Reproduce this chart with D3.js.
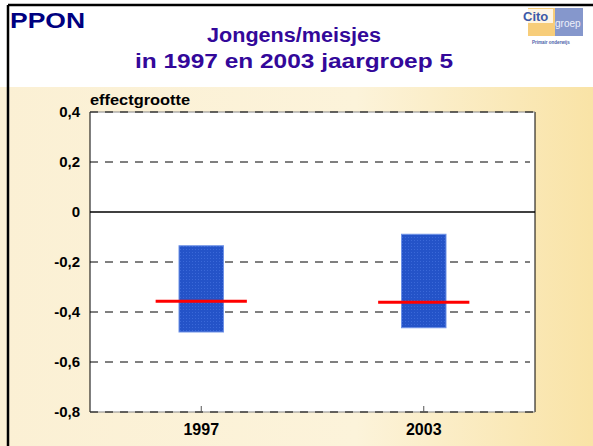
<!DOCTYPE html>
<html>
<head>
<script src="https://d3js.org/d3.v7.min.js"></script>
<style>
  body { margin: 0; background: #fff; }
  svg { display: block; font-family: "Liberation Sans", Arial, sans-serif; }
</style>
</head>
<body>
<div id="chart"></div>
<script>
// data
const categories = ["1997", "2003"];
const boxLow = [-0.48, -0.463];
const boxHigh = [-0.135, -0.089];
const meanValue = [-0.357, -0.361];
const yTicks = [0.4, 0.2, 0, -0.2, -0.4, -0.6, -0.8];

const width = 593, height = 446;
const svg = d3.select("#chart").append("svg")
    .attr("width", width)
    .attr("height", height);

const defs = svg.append("defs");
const bg = defs.append("linearGradient").attr("id", "bg").attr("x1", 0).attr("x2", 1).attr("y1", 0).attr("y2", 0);
bg.append("stop").attr("offset", "0%").attr("stop-color", "#fbf0d4");
bg.append("stop").attr("offset", "60%").attr("stop-color", "#fcf3da");
bg.append("stop").attr("offset", "100%").attr("stop-color", "#f9e3a6");

const dots = defs.append("pattern").attr("id", "dots")
    .attr("width", 3).attr("height", 3).attr("patternUnits", "userSpaceOnUse");
dots.append("rect").attr("width", 3).attr("height", 3).attr("fill", "#2453c8");
dots.append("rect").attr("width", 1).attr("height", 1).attr("fill", "#3a68d8");

// slide background
svg.append("rect").attr("width", width).attr("height", height).attr("fill", "#fff");
svg.append("rect").attr("x", 0).attr("y", 87).attr("width", width).attr("height", height - 87).attr("fill", "url(#bg)");

// frame
svg.append("line").attr("x1", 8).attr("x2", width).attr("y1", 5).attr("y2", 5).attr("stroke", "#000").attr("stroke-width", 2.5);
svg.append("line").attr("x1", 8).attr("x2", 8).attr("y1", 5).attr("y2", height).attr("stroke", "#000").attr("stroke-width", 2.5);

svg.append("text").attr("x", 10).attr("y", 28)
    .attr("font-size", 22).attr("font-weight", "bold").attr("fill", "#000080")
    .attr("textLength", 75).attr("lengthAdjust", "spacingAndGlyphs")
    .text("PPON");

svg.append("text").attr("x", 294).attr("y", 42).attr("text-anchor", "middle")
    .attr("font-size", 19.5).attr("font-weight", "bold").attr("fill", "#33089a")
    .attr("textLength", 174).attr("lengthAdjust", "spacingAndGlyphs")
    .text("Jongens/meisjes");
svg.append("text").attr("x", 294).attr("y", 68).attr("text-anchor", "middle")
    .attr("font-size", 19.5).attr("font-weight", "bold").attr("fill", "#33089a")
    .attr("textLength", 318).attr("lengthAdjust", "spacingAndGlyphs")
    .text("in 1997 en 2003 jaargroep 5");

// logo
const logo = svg.append("g");
logo.append("rect").attr("x", 528).attr("y", 8).attr("width", 28).attr("height", 28).attr("fill", "#f7cd7a");
logo.append("rect").attr("x", 555).attr("y", 8).attr("width", 28).attr("height", 28).attr("fill", "#8597cc");
logo.append("rect").attr("x", 522).attr("y", 9).attr("width", 31).attr("height", 14).attr("fill", "#fff").attr("opacity", 0.8);
logo.append("text").attr("x", 523).attr("y", 21).attr("font-size", 13).attr("font-weight", "bold").attr("fill", "#3d5aa8").text("Cito");
logo.append("text").attr("x", 555).attr("y", 27).attr("font-size", 10).attr("fill", "#eef0fa").text("groep");
logo.append("text").attr("x", 532).attr("y", 44).attr("font-size", 4.5).attr("font-weight", "bold").attr("fill", "#4b5fa8").text("Primair onderwijs");

// plot
const x = d3.scaleBand().domain(categories).range([90, 535]);
const y = d3.scaleLinear().domain([-0.8, 0.4]).range([412, 112]);

svg.append("rect").attr("x", 90).attr("y", y(0.4)).attr("width", 445).attr("height", y(-0.8) - y(0.4)).attr("fill", "#fff");

const grid = svg.append("g");
grid.selectAll("line").data(yTicks.filter(d => d !== 0 && d !== 0.4 && d !== -0.8)).join("line")
    .attr("x1", 90).attr("x2", 530)
    .attr("y1", d => y(d)).attr("y2", d => y(d))
    .attr("stroke", "#000").attr("stroke-width", 1).attr("stroke-dasharray", "8,7");

// plot border
svg.append("line").attr("x1", 90).attr("x2", 90).attr("y1", y(0.4)).attr("y2", y(-0.8)).attr("stroke", "#000");
svg.append("line").attr("x1", 535).attr("x2", 535).attr("y1", y(0.4)).attr("y2", y(-0.8)).attr("stroke", "#000");
[0.4, -0.8].forEach(v => {
  svg.append("line").attr("x1", 90).attr("x2", 535).attr("y1", y(v)).attr("y2", y(v)).attr("stroke", "#888");
  svg.append("line").attr("x1", 90).attr("x2", 535).attr("y1", y(v)).attr("y2", y(v)).attr("stroke", "#000").attr("stroke-dasharray", "8,7");
});
svg.append("line").attr("x1", 90).attr("x2", 535).attr("y1", y(0)).attr("y2", y(0)).attr("stroke", "#000").attr("stroke-width", 1.3);

// boxes
const bw = x.bandwidth() * 0.2;
svg.append("g").selectAll("rect").data(categories).join("rect")
    .attr("x", d => x(d) + x.bandwidth() / 2 - bw / 2)
    .attr("y", (d, i) => y(boxHigh[i]))
    .attr("width", bw)
    .attr("height", (d, i) => y(boxLow[i]) - y(boxHigh[i]))
    .attr("fill", "url(#dots)")
    .attr("stroke", "#6f92e6").attr("stroke-width", 1);

// means
const mw = x.bandwidth() * 0.41;
svg.append("g").selectAll("line").data(categories).join("line")
    .attr("x1", d => x(d) + x.bandwidth() / 2 - mw / 2)
    .attr("x2", d => x(d) + x.bandwidth() / 2 + mw / 2)
    .attr("y1", (d, i) => y(meanValue[i]))
    .attr("y2", (d, i) => y(meanValue[i]))
    .attr("stroke", "#ff0000").attr("stroke-width", 3);

// axes
const yAxis = svg.append("g").attr("transform", "translate(90,0)")
    .call(d3.axisLeft(y).tickValues(yTicks).tickSize(0).tickPadding(10)
      .tickFormat(d => d === 0 ? "0" : d3.format(".1f")(d).replace(".", ",").replace("−", "-")));
yAxis.select(".domain").remove();
yAxis.selectAll("text").attr("font-size", 15).attr("font-weight", "bold").attr("fill", "#000")
    .attr("font-family", "Liberation Sans, Arial, sans-serif");

const xAxis = svg.append("g").attr("transform", `translate(0,${y(-0.8)})`)
    .call(d3.axisTop(x).tickSize(6).tickFormat(""));
xAxis.select(".domain").remove();
xAxis.selectAll("line").attr("stroke", "#555");
svg.append("g").selectAll("text").data(categories).join("text")
    .attr("x", d => x(d) + x.bandwidth() / 2)
    .attr("y", 435)
    .attr("text-anchor", "middle")
    .attr("font-size", 16).attr("font-weight", "bold").attr("fill", "#000")
    .text(d => d);

svg.append("text").attr("x", 90).attr("y", 105)
    .attr("font-size", 15).attr("font-weight", "bold").attr("fill", "#000")
    .attr("textLength", 100).attr("lengthAdjust", "spacingAndGlyphs")
    .text("effectgrootte");
</script>
</body>
</html>
